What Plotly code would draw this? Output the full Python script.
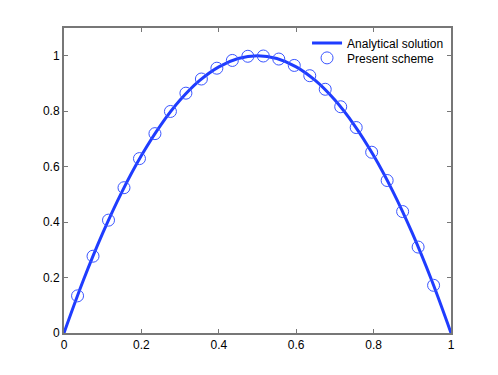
import plotly.graph_objects as go

# Analytical solution
x_exact = [0.0, 0.05, 0.10, 0.15, 0.20, 0.25, 0.30, 0.35, 0.40, 0.45, 0.50,
           0.55, 0.60, 0.65, 0.70, 0.75, 0.80, 0.85, 0.90, 0.95, 1.0]
y_exact = [0.0, 0.19, 0.36, 0.51, 0.64, 0.75, 0.84, 0.91, 0.96, 0.99, 1.0,
           0.99, 0.96, 0.91, 0.84, 0.75, 0.64, 0.51, 0.36, 0.19, 0.0]

# Present scheme (circles)
x_num = [0.035, 0.075, 0.115, 0.155, 0.195, 0.235, 0.275, 0.315, 0.355, 0.395,
         0.435, 0.475, 0.515, 0.555, 0.595, 0.635, 0.675, 0.715, 0.755, 0.795,
         0.835, 0.875, 0.915, 0.955]
y_num = [0.134, 0.277, 0.407, 0.524, 0.629, 0.719, 0.799, 0.865, 0.916, 0.955,
         0.983, 0.998, 0.999, 0.988, 0.965, 0.928, 0.879, 0.816, 0.741, 0.652,
         0.550, 0.438, 0.310, 0.172]

x_ticks = [0, 0.2, 0.4, 0.6, 0.8, 1]
x_ticklabels = ["0", "0.2", "0.4", "0.6", "0.8", "1"]
y_ticks = [0, 0.2, 0.4, 0.6, 0.8, 1]
y_ticklabels = ["0", "0.2", "0.4", "0.6", "0.8", "1"]

fig = go.Figure()
fig.add_trace(go.Scatter(
    x=x_exact, y=y_exact, mode="lines", name="Analytical solution",
    line=dict(color="#1f3cff", width=3, shape="spline"),
    legend="legend",
))
fig.add_trace(go.Scatter(
    x=x_num, y=y_num, mode="markers", name="Present scheme",
    marker=dict(symbol="circle-open", size=12, color="#3a55ff",
                line=dict(width=1, color="#3a55ff")),
    legend="legend2",
))

axis_common = dict(
    showgrid=False, zeroline=False, showline=True, mirror="ticks",
    linecolor="#777777", linewidth=2, ticks="inside", ticklen=4,
    tickcolor="#777777",
    tickfont=dict(family="Liberation Sans, Arial", size=12, color="black"),
)

legend_common = dict(
    xanchor="left", yanchor="middle",
    bgcolor="rgba(255,255,255,0)", borderwidth=0,
    font=dict(family="Liberation Sans, Arial", size=12, color="black"),
    itemwidth=30,
)

# page body has an 8px default margin, so the figure is sized to fit
fig.update_layout(
    width=490, height=367,
    margin=dict(l=56, r=47, t=20, b=42),
    paper_bgcolor="white", plot_bgcolor="white",
    xaxis=dict(range=[0, 1], tickvals=x_ticks, ticktext=x_ticklabels, **axis_common),
    yaxis=dict(range=[0, 1.1], tickvals=y_ticks, ticktext=y_ticklabels, **axis_common),
    legend=dict(x=0.628, y=0.951, **legend_common),
    legend2=dict(x=0.628, y=0.902, **legend_common),
    showlegend=True,
)

fig.write_html("out.html")
